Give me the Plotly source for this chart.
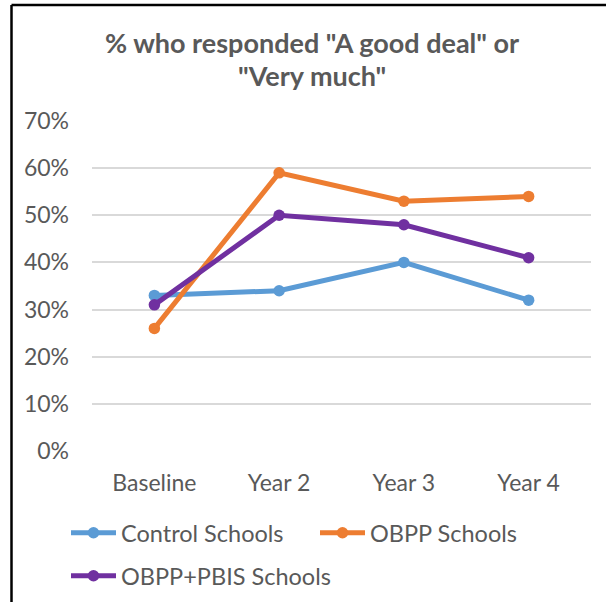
import plotly.graph_objects as go

# Survey results by year
years = ["Baseline", "Year 2", "Year 3", "Year 4"]
control_schools = [33, 34, 40, 32]
obpp_schools = [26, 59, 53, 54]
obpp_pbis_schools = [31, 50, 48, 41]
y_ticks = [0, 10, 20, 30, 40, 50, 60, 70]
y_tick_labels = [f"{v}%" for v in y_ticks]
title_lines = ["% who responded \"A good deal\" or", "\"Very much\""]

W, H = 606, 602
M_L, M_R, M_T, M_B = 92, 15, 121, 151
PW = W - M_L - M_R
PH = H - M_T - M_B

FONT = "Lato"
GREY = "#595959"

series = [
    ("Control Schools", control_schools, "#5B9BD5", "legend"),
    ("OBPP Schools", obpp_schools, "#ED7D31", "legend2"),
    ("OBPP+PBIS Schools", obpp_pbis_schools, "#7030A0", "legend3"),
]

fig = go.Figure()
for name, vals, color, leg in series:
    fig.add_trace(go.Scatter(
        x=years, y=vals, name=name, mode="lines+markers",
        line=dict(color=color, width=5),
        marker=dict(color=color, size=11.5),
        legend=leg,
    ))


def px_x(px):
    return (px - M_L) / PW


def px_y(py):
    return (H - M_B - py) / PH


legend_common = dict(
    orientation="h", xref="container", yref="container",
    xanchor="left", yanchor="middle", itemwidth=45,
    font=dict(family=FONT, size=23.5, color=GREY),
    bgcolor="rgba(0,0,0,0)", borderwidth=0,
)

fig.update_layout(
    width=W, height=H,
    margin=dict(l=M_L, r=M_R, t=M_T, b=M_B),
    paper_bgcolor="white", plot_bgcolor="white",
    xaxis=dict(
        type="category", range=[-0.5, 3.5],
        showgrid=False, showline=False, ticks="",
        tickfont=dict(family=FONT, size=23, color=GREY),
        ticklabelstandoff=16,
    ),
    yaxis=dict(
        range=[0, 70], tickvals=y_ticks, ticktext=y_tick_labels,
        showgrid=True, gridcolor="#D9D9D9", gridwidth=1.5,
        zeroline=False, showline=False, ticks="",
        tickfont=dict(family=FONT, size=23, color=GREY),
        ticklabelstandoff=22,
    ),
    legend=dict(legend_common, x=66 / W, y=1 - 533 / H),
    legend2=dict(legend_common, x=315 / W, y=1 - 533 / H),
    legend3=dict(legend_common, x=66 / W, y=1 - 576 / H),
    showlegend=True,
)

# Two-line chart title
for text, cy in zip(title_lines, [42.5, 75.5]):
    fig.add_annotation(
        text=text, xref="paper", yref="paper",
        x=px_x(312), y=px_y(cy), xanchor="center", yanchor="middle",
        showarrow=False,
        font=dict(family=FONT, size=27, color=GREY, weight="bold"),
    )

# Frame lines along the left and top edges of the chart
x0, y0 = px_x(11.5), px_y(5)
fig.add_shape(type="line", xref="paper", yref="paper",
              x0=x0, y0=y0, x1=x0, y1=px_y(H + 5),
              line=dict(color="black", width=2.5))
fig.add_shape(type="line", xref="paper", yref="paper",
              x0=x0, y0=y0, x1=px_x(W + 5), y1=y0,
              line=dict(color="black", width=2.5))

fig.write_html("out.html")
